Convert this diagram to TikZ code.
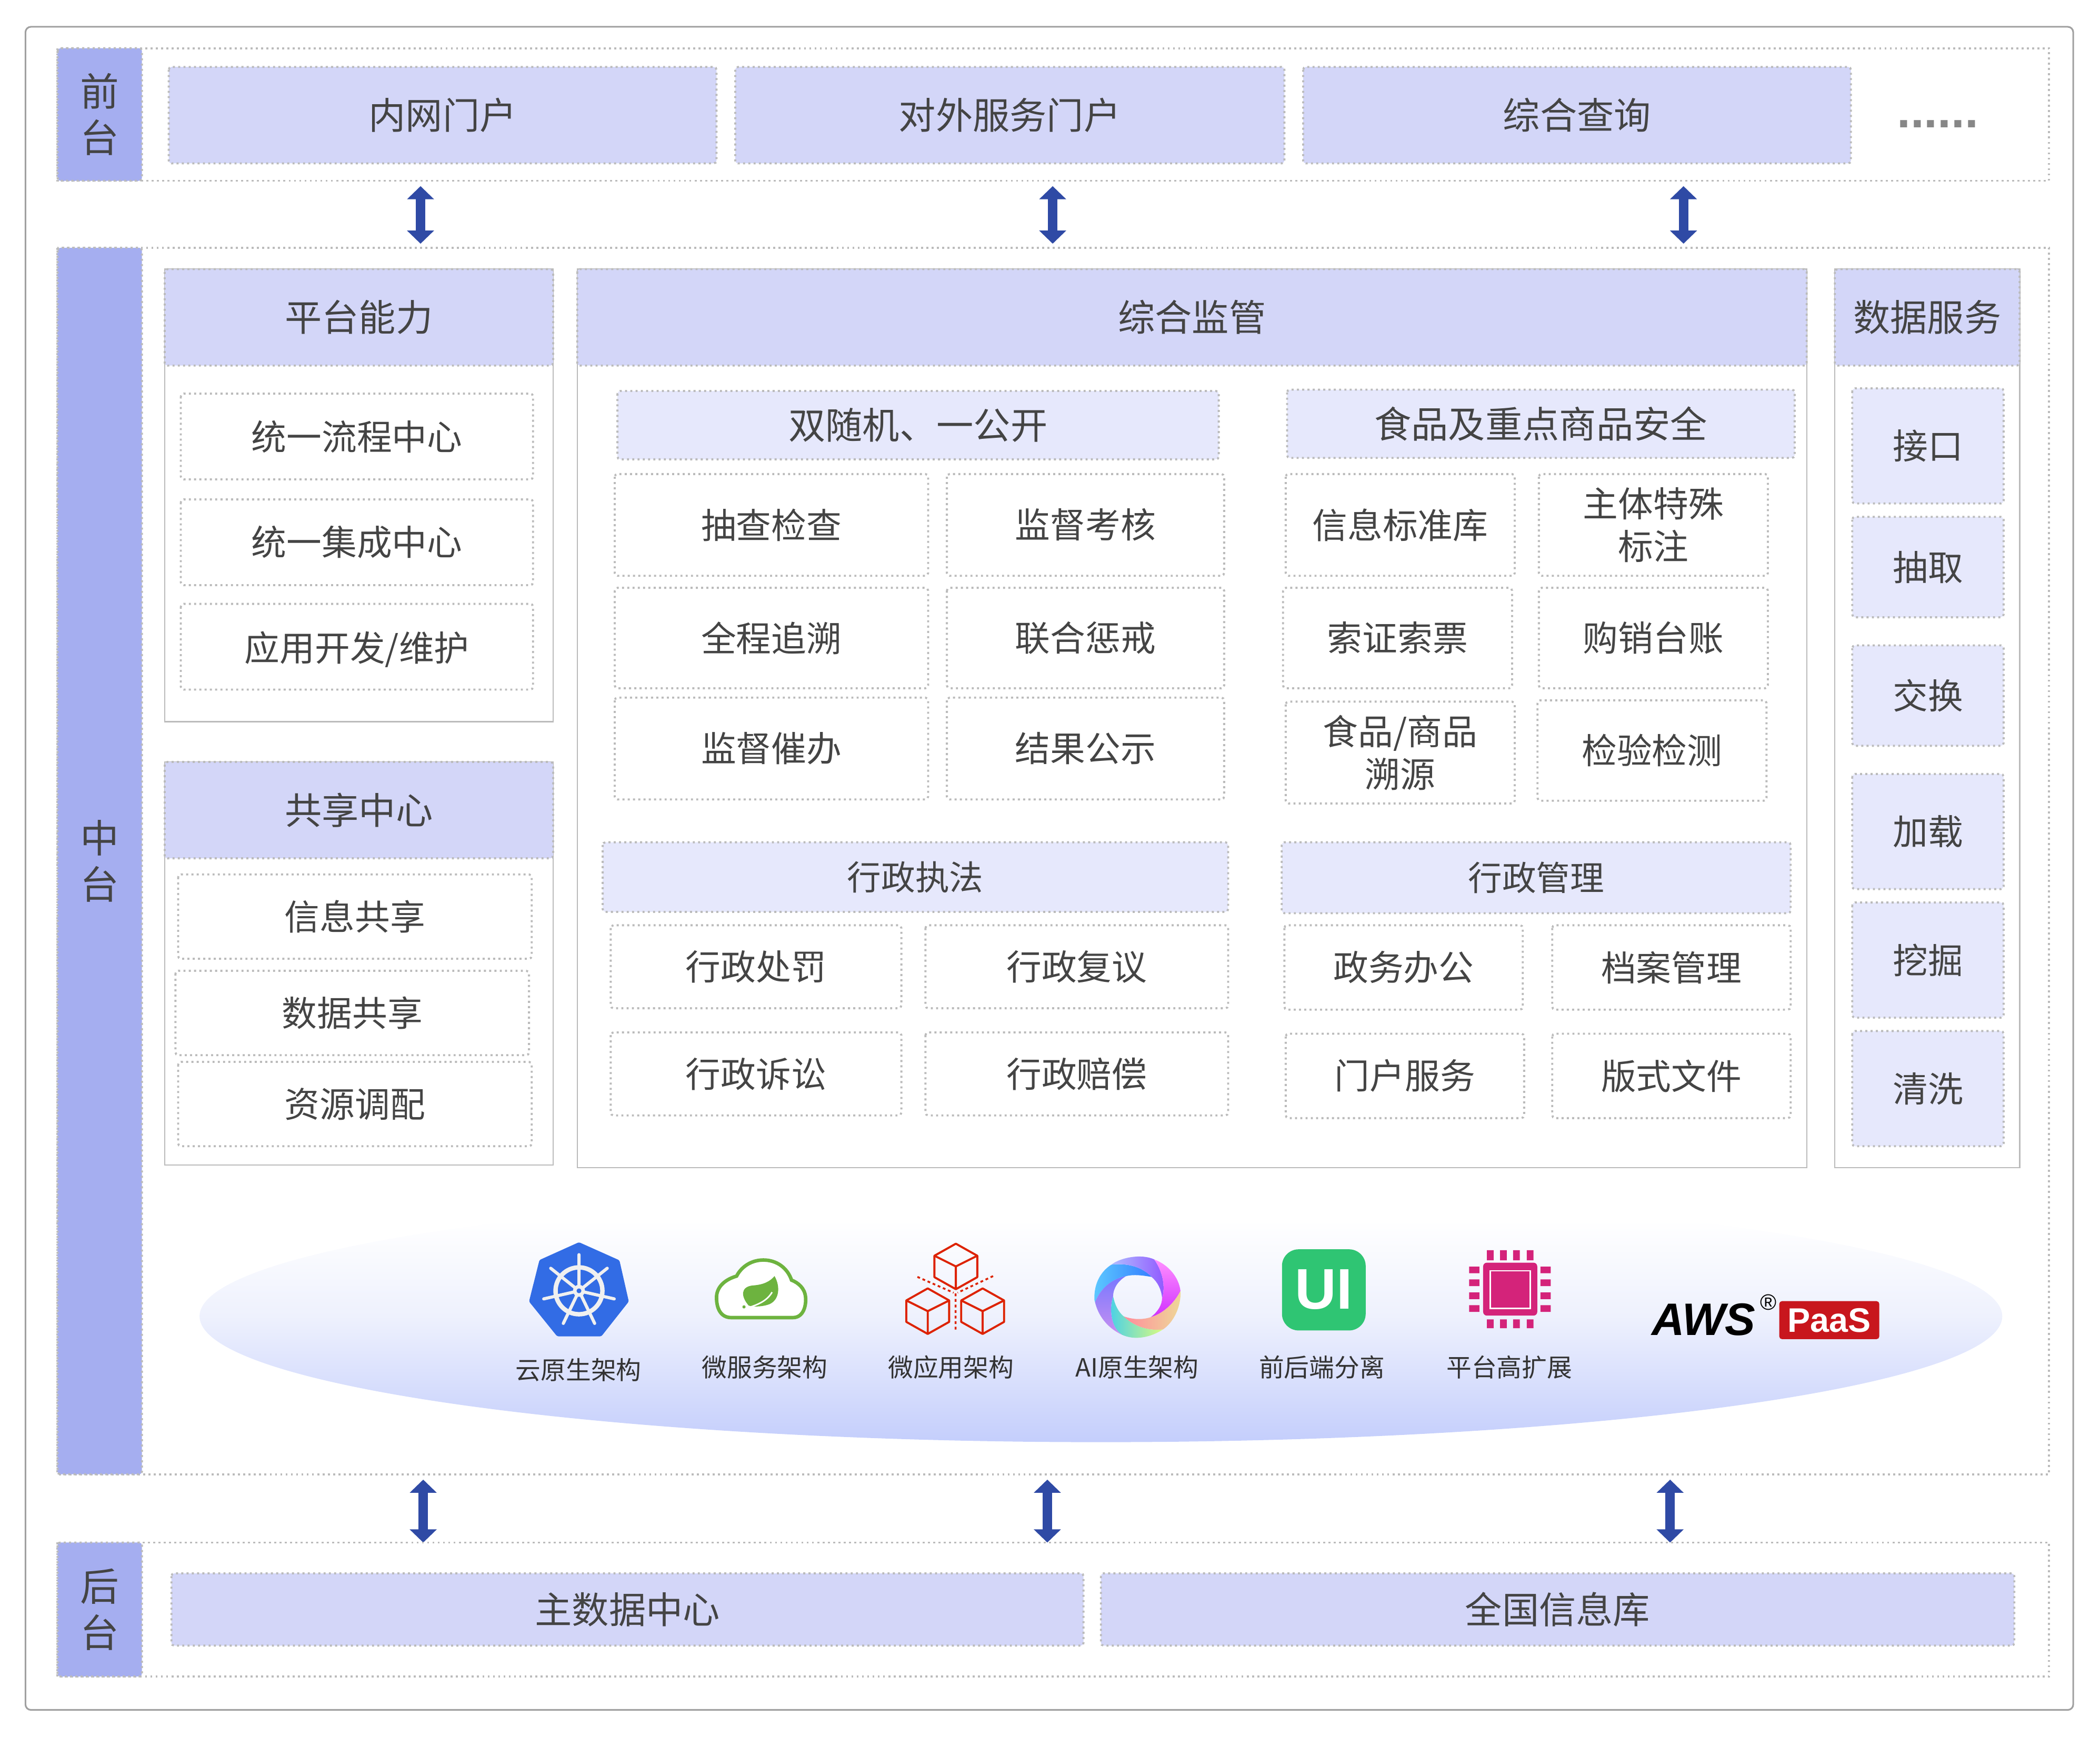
\documentclass[tikz,border=0pt]{standalone}
\usepackage{fontspec}
\setmainfont{Noto Sans CJK SC}
\newfontfamily\latinfont{Liberation Sans}
\usetikzlibrary{arrows.meta}

\definecolor{framegray}{HTML}{A0A0A0}
\definecolor{dotgray}{HTML}{BBBBBB}
\definecolor{textgray}{HTML}{444444}
\definecolor{sidecolor}{HTML}{A5AEF0}
\definecolor{headcolor}{HTML}{D3D6F8}
\definecolor{subcolor}{HTML}{E6E8FC}
\definecolor{arrowblue}{HTML}{2F4AA5}
\definecolor{lensmid}{HTML}{EEF1FD}
\definecolor{lensbottom}{HTML}{C4CEFC}
\definecolor{helmblue}{HTML}{326CE5}
\definecolor{helmwhite}{HTML}{F0F0F0}
\definecolor{springgreen}{HTML}{6DB33F}
\definecolor{cubered}{HTML}{DD2200}
\definecolor{uigreen}{HTML}{2FC573}
\definecolor{chippink}{HTML}{D4237A}
\definecolor{paasred}{HTML}{C8161D}
\definecolor{ringcyan}{HTML}{5CC8FF}
\definecolor{ringblue}{HTML}{3580FF}
\definecolor{ringlav}{HTML}{B0BCFF}
\definecolor{ringviolet}{HTML}{9058FF}
\definecolor{ringpink}{HTML}{FF90FF}
\definecolor{ringmagenta}{HTML}{D030FF}
\definecolor{ringsalmon}{HTML}{FF8C9C}
\definecolor{ringsand}{HTML}{EED898}
\definecolor{ringteal}{HTML}{48D0E8}
\definecolor{ringlime}{HTML}{DAFA80}
\definecolor{ringperi}{HTML}{7878FF}
\definecolor{ringorchid}{HTML}{C890F0}

\pgfdeclareverticalshading{lensfade}{100bp}{color(0bp)=(lensbottom); color(25bp)=(lensbottom);
  color(50bp)=(lensmid); color(69bp)=(white); color(100bp)=(white)}

\tikzset{
  rowbox/.style={draw=dotgray, line width=1.1pt, dash pattern=on 1.1pt off 1.75pt},
  sidebox/.style={rowbox, fill=sidecolor, rounded corners=1.5pt,
    nodes={font=\fontsize{21}{25}\selectfont}},
  headbox/.style={rowbox, fill=headcolor, rounded corners=1.5pt,
    nodes={font=\fontsize{20}{24}\selectfont}},
  subbox/.style={rowbox, fill=subcolor, rounded corners=1.5pt},
  topsub/.style={subbox, nodes={font=\fontsize{20}{24}\selectfont}},
  lawsub/.style={subbox, nodes={font=\fontsize{18.4}{22}\selectfont}},
  itembox/.style={rowbox, fill=white, rounded corners=1.5pt},
  panelbox/.style={draw=dotgray, line width=0.7pt, fill=white},
  bothway/.style={line width=0.18cm, draw=arrowblue,
    {Triangle[width=0.5cm,length=0.25cm]}-{Triangle[width=0.5cm,length=0.25cm]}},
  iconlabel/.style={font=\fontsize{13.6}{16}\selectfont, text=black!80},
  cubeicon/.pic={
    \draw[cubered, line width=1.1pt, line join=round]
      (0,17) -- (16,8) -- (16,-8) -- (0,-17) -- (-16,-8) -- (-16,8) -- cycle;
    \draw[cubered, line width=1.1pt, line join=round]
      (-16,8) -- (0,0) -- (16,8) (0,0) -- (0,-17);
  }
}

\begin{document}
\begin{tikzpicture}[x=0.025446cm, y=0.025446cm,
    every node/.style={font=\fontsize{19}{23}\selectfont, text=textgray, align=center}]
  \useasboundingbox (0,0) rectangle (1568,-1296.85);

  % Outer frame
  \draw[draw=framegray, line width=0.9pt, rounded corners=3pt] (19,-20) rectangle (1548,-1277);

  % Front row
  \draw[rowbox] (43,-36) rectangle (1530,-135);
  \draw[sidebox] (43,-36) rectangle node (frontlabel) {前\\台} (106,-135);
  \draw[headbox] (126,-50) rectangle node (innerportal) {内网门户} (535,-122);
  \draw[headbox] (549,-50) rectangle node (outerportal) {对外服务门户} (959,-122);
  \draw[headbox] (973,-50) rectangle node (query) {综合查询} (1382,-122);
  \node[font=\latinfont\bfseries\fontsize{26.4}{26.4}\selectfont, text=black!47] (moredots) at (1446.8,-92.6) {......};

  % Arrows between front and middle
  \coordinate (frontA) at (314,-139);
  \coordinate (frontB) at (786,-139);
  \coordinate (frontC) at (1257,-139);
  \coordinate (midA) at (314,-182);
  \coordinate (midB) at (786,-182);
  \coordinate (midC) at (1257,-182);
  \draw[bothway] (frontA) -- (midA);
  \draw[bothway] (frontB) -- (midB);
  \draw[bothway] (frontC) -- (midC);

  % Middle row
  \draw[rowbox] (43,-185) rectangle (1530,-1101);
  \draw[sidebox] (43,-185) rectangle node (midlabel) {中\\台} (106,-1101);

  % Platform ability
  \draw[panelbox] (123,-201) rectangle (413,-539);
  \draw[headbox] (123,-201) rectangle node (ability) {平台能力} (413,-273);
  \draw[itembox] (135,-294) rectangle node (flowcenter) {统一流程中心} (398,-358);
  \draw[itembox] (135,-373) rectangle node (joincenter) {统一集成中心} (398,-437);
  \draw[itembox] (135,-451) rectangle node[yshift=-1.5pt] (appdev) {应用开发/维护} (398,-515);

  % Shared center
  \draw[panelbox] (123,-569) rectangle (413,-870);
  \draw[headbox] (123,-569) rectangle node (sharecenter) {共享中心} (413,-641);
  \draw[itembox] (133,-653) rectangle node (infoshare) {信息共享} (397,-716);
  \draw[itembox] (131,-725) rectangle node (datashare) {数据共享} (395,-788);
  \draw[itembox] (133,-793) rectangle node (resource) {资源调配} (397,-856);

  % Supervision
  \draw[panelbox] (431,-201) rectangle (1349,-872);
  \draw[headbox] (431,-201) rectangle node (supervise) {综合监管} (1349,-273);

  \draw[topsub] (461,-292) rectangle node (random) {双随机、一公开} (910,-343);
  \draw[itembox] (459,-354) rectangle node (check) {抽查检查} (693,-430);
  \draw[itembox] (707,-354) rectangle node (assess) {监督考核} (914,-430);
  \draw[itembox] (459,-439) rectangle node (trace) {全程追溯} (693,-514);
  \draw[itembox] (707,-439) rectangle node (punish) {联合惩戒} (914,-514);
  \draw[itembox] (459,-521) rectangle node (urge) {监督催办} (693,-597);
  \draw[itembox] (707,-521) rectangle node (publicity) {结果公示} (914,-597);

  \draw[topsub] (961,-291) rectangle node (foodsafe) {食品及重点商品安全} (1340,-342);
  \draw[itembox] (960,-354) rectangle node (infolib) {信息标准库} (1131,-430);
  \draw[itembox] (1149,-354) rectangle node (subjectmark) {主体特殊\\标注} (1320,-430);
  \draw[itembox] (958,-439) rectangle node (ticket) {索证索票} (1129,-514);
  \draw[itembox] (1149,-439) rectangle node (ledger) {购销台账} (1320,-514);
  \draw[itembox] (960,-524) rectangle node (foodtrace) {食品/商品\\溯源} (1131,-600);
  \draw[itembox] (1148,-523) rectangle node (inspect) {检验检测} (1319,-598);

  \draw[lawsub] (450,-629) rectangle node (enforce) {行政执法} (917,-681);
  \draw[itembox] (456,-691) rectangle node (penalty) {行政处罚} (673,-753);
  \draw[itembox] (691,-691) rectangle node (review) {行政复议} (917,-753);
  \draw[itembox] (456,-771) rectangle node (lawsuit) {行政诉讼} (673,-833);
  \draw[itembox] (691,-771) rectangle node (compensate) {行政赔偿} (917,-833);

  \draw[lawsub] (957,-629) rectangle node (manage) {行政管理} (1337,-682);
  \draw[itembox] (959,-691) rectangle node (office) {政务办公} (1137,-754);
  \draw[itembox] (1159,-691) rectangle node (archive) {档案管理} (1337,-754);
  \draw[itembox] (960,-772) rectangle node (portalserv) {门户服务} (1138,-835);
  \draw[itembox] (1159,-772) rectangle node (layoutfile) {版式文件} (1337,-835);

  % Data service
  \draw[panelbox] (1370,-201) rectangle (1508,-872);
  \draw[headbox] (1370,-201) rectangle node (dataserv) {数据服务} (1508,-273);
  \draw[subbox] (1383,-290) rectangle node (iface) {接口} (1496,-376);
  \draw[subbox] (1383,-386) rectangle node (extract) {抽取} (1496,-461);
  \draw[subbox] (1383,-482) rectangle node (exchange) {交换} (1496,-557);
  \draw[subbox] (1383,-578) rectangle node (load) {加载} (1496,-664);
  \draw[subbox] (1383,-674) rectangle node (mining) {挖掘} (1496,-760);
  \draw[subbox] (1383,-770) rectangle node (clean) {清洗} (1496,-856);

  % Platform ellipse
  \shade[shading=lensfade] (822,-983) ellipse [x radius=673, y radius=94];

  % Helm icon
  \fill[helmblue, rounded corners=0.8pt] (432.3,-927.7) -- (462.5,-941.2) -- (469.5,-972) -- (449,-998)
    -- (416,-998) -- (395,-972) -- (402.8,-941) -- cycle;
  \draw[helmwhite, line width=2.4pt] (432.3,-964) circle (17.5);
  \draw[helmwhite, line width=1.7pt, line cap=round]
    (432.3,-964) -- ++(90:27) (432.3,-964) -- ++(141.4:27) (432.3,-964) -- ++(192.9:27)
    (432.3,-964) -- ++(244.3:27) (432.3,-964) -- ++(295.7:27) (432.3,-964) -- ++(347.1:27)
    (432.3,-964) -- ++(38.6:27);
  \fill[helmwhite] (432.3,-964) circle (4.5);
  \fill[helmblue] (432.3,-964) circle (1.8);
  \node[iconlabel] (cloudnative) at (432,-1023) {云原生架构};

  % Spring icon
  \draw[springgreen, fill=white, line width=1.9pt]
    (546,-984) -- (592,-984) .. controls (600,-984) and (602,-975) .. (601.5,-969)
    .. controls (601,-962) and (596,-958) .. (591,-956)
    .. controls (588,-947) and (580,-941) .. (570,-941)
    .. controls (560,-941) and (553,-947) .. (550,-953)
    .. controls (540,-956) and (535,-962) .. (535,-969)
    .. controls (535,-977) and (538,-984) .. (546,-984) -- cycle;
  \fill[springgreen] (578.3,-953) .. controls (583,-961) and (582,-972) .. (573,-974.5)
    .. controls (568,-976) and (562,-976) .. (559,-975)
    .. controls (553,-968) and (553,-961) .. (562,-960)
    .. controls (570,-959.5) and (575,-957) .. (578.3,-953) -- cycle;
  \draw[white, line width=0.8pt] (559,-976.5) .. controls (567,-974) and (573,-971) .. (576.5,-965);
  \fill[springgreen] (555.5,-976) circle (1.2);
  \node[iconlabel] (microservice) at (571,-1021) {微服务架构};

  % Cube icon
  \pic at (713.7,-945.8) {cubeicon};
  \pic at (692.7,-979.2) {cubeicon};
  \pic at (733.7,-979.2) {cubeicon};
  \draw[cubered, line width=1pt, dash pattern=on 1.5pt off 1.5pt]
    (685,-953.6) -- (712,-965.4) (741.5,-953) -- (715,-965.4) (713.5,-966) -- (713.5,-994);
  \node[iconlabel] (microapp) at (710,-1021) {微应用架构};

  % AI ring
  \begin{scope}[shift={(801.7,-927.5)}, x=0.003333cm, y=-0.003333cm]
    \shade[left color=ringcyan, right color=ringblue]
      (118,330) .. controls (115,230) and (160,165) .. (215,130)
      .. controls (290,120) and (385,135) .. (445,200)
      .. controls (390,190) and (340,185) .. (300,195)
      .. controls (215,210) and (150,270) .. (122,345) -- cycle;
    \shade[left color=ringlav, right color=ringviolet]
      (215,130) .. controls (265,90) and (385,65) .. (460,100)
      .. controls (510,170) and (525,260) .. (505,320)
      .. controls (500,270) and (480,230) .. (445,200)
      .. controls (385,135) and (290,120) .. (215,130) -- cycle;
    \shade[top color=ringpink, bottom color=ringmagenta]
      (460,100) .. controls (540,130) and (600,200) .. (610,280)
      .. controls (575,350) and (510,410) .. (440,430)
      .. controls (480,400) and (505,360) .. (505,320)
      .. controls (525,260) and (510,170) .. (460,100) -- cycle;
    \shade[left color=ringsalmon, right color=ringsand]
      (610,280) .. controls (615,370) and (570,460) .. (510,500)
      .. controls (420,510) and (340,480) .. (285,425)
      .. controls (340,445) and (395,445) .. (440,430)
      .. controls (510,410) and (575,350) .. (610,280) -- cycle;
    \shade[left color=ringteal, right color=ringlime]
      (510,500) .. controls (440,545) and (350,565) .. (275,530)
      .. controls (215,490) and (200,390) .. (225,310)
      .. controls (235,360) and (255,400) .. (285,425)
      .. controls (340,480) and (420,510) .. (510,500) -- cycle;
    \shade[top color=ringperi, bottom color=ringorchid]
      (122,345) .. controls (150,270) and (215,210) .. (300,195)
      .. controls (255,220) and (225,265) .. (225,310)
      .. controls (200,390) and (215,490) .. (275,530)
      .. controls (190,490) and (140,420) .. (122,345) -- cycle;
  \end{scope}
  \node[iconlabel] (ainative) at (849,-1021) {AI原生架构};

  % UI icon
  \fill[uigreen, rounded corners=9pt] (957.2,-933) rectangle (1019.7,-993.6);
  \node[font=\latinfont\bfseries\fontsize{31}{31}\selectfont, text=white] (uimark) at (988.5,-963) {UI};
  \node[iconlabel] (frontback) at (987,-1021) {前后端分离};

  % Chip icon
  \fill[chippink, rounded corners=2pt] (1107.4,-943) rectangle (1147.8,-982.5);
  \draw[white, line width=0.7pt] (1112.7,-949) rectangle (1142.5,-977.2);
  \fill[chippink] (1110.2,-933.7) rectangle ++(5,-7.5) (1120,-933.7) rectangle ++(5,-7.5)
    (1129.8,-933.7) rectangle ++(5,-7.5) (1140,-933.7) rectangle ++(5,-7.5);
  \fill[chippink] (1110.2,-985.3) rectangle ++(5,-6.6) (1120,-985.3) rectangle ++(5,-6.6)
    (1129.8,-985.3) rectangle ++(5,-6.6) (1140,-985.3) rectangle ++(5,-6.6);
  \fill[chippink] (1096.9,-945.9) rectangle ++(7.7,-5) (1096.9,-955.5) rectangle ++(7.7,-5)
    (1096.9,-965.2) rectangle ++(7.7,-5) (1096.9,-974.7) rectangle ++(7.7,-5);
  \fill[chippink] (1150.2,-945.9) rectangle ++(7.7,-5) (1150.2,-955.5) rectangle ++(7.7,-5)
    (1150.2,-965.2) rectangle ++(7.7,-5) (1150.2,-974.7) rectangle ++(7.7,-5);
  \node[iconlabel] (scaleout) at (1127,-1021) {平台高扩展};

  % AWS PaaS mark
  \node[font=\latinfont\bfseries\itshape\fontsize{24.6}{24.6}\selectfont, text=black] (awsmark) at (1272,-985.5) {AWS};
  \node[font=\latinfont\fontsize{12}{12}\selectfont, text=black] (regmark) at (1320.4,-972.6) {®};
  \fill[paasred, rounded corners=1.5pt] (1328.5,-971.7) rectangle (1403.2,-1000.1);
  \node[font=\latinfont\bfseries\fontsize{18.4}{18.4}\selectfont, text=white] (paasmark) at (1365.8,-986) {PaaS};

  % Arrows between middle and back
  \coordinate (lowA) at (316,-1105);
  \coordinate (lowB) at (782,-1105);
  \coordinate (lowC) at (1247,-1105);
  \coordinate (backA) at (316,-1152);
  \coordinate (backB) at (782,-1152);
  \coordinate (backC) at (1247,-1152);
  \draw[bothway] (lowA) -- (backA);
  \draw[bothway] (lowB) -- (backB);
  \draw[bothway] (lowC) -- (backC);

  % Back row
  \draw[rowbox] (43,-1152) rectangle (1530,-1252);
  \draw[sidebox] (43,-1152) rectangle node (backlabel) {后\\台} (106,-1252);
  \draw[headbox] (128,-1175) rectangle node (maincenter) {主数据中心} (809,-1229);
  \draw[headbox] (822,-1175) rectangle node (nationlib) {全国信息库} (1504,-1229);
\end{tikzpicture}
\end{document}
